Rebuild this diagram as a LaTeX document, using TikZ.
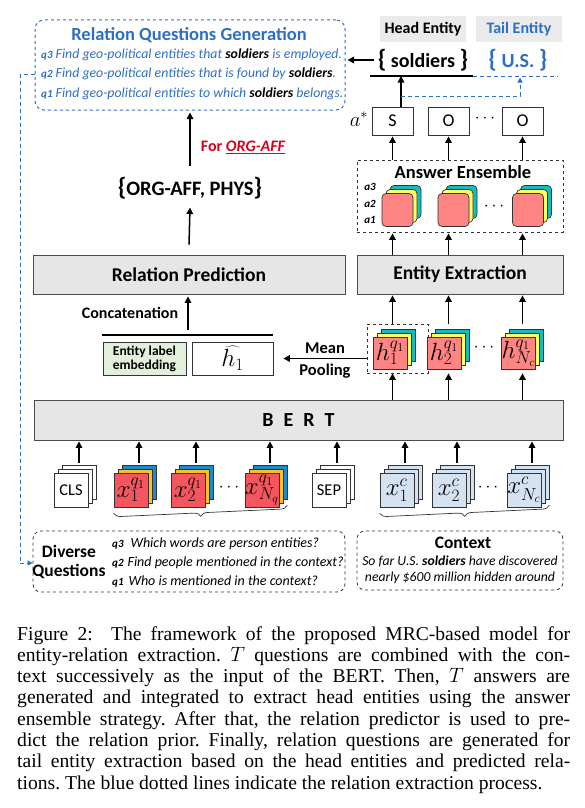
\documentclass[tikz,border=0pt]{standalone}
\usepackage{fontspec}
\setmainfont{Carlito}
\newfontfamily\capfont{Liberation Serif}
\usetikzlibrary{arrows.meta,decorations.pathreplacing}
\definecolor{qblue}{HTML}{2E6FC4}
\definecolor{boxgray}{HTML}{E6E6E6}
\definecolor{lblgray}{HTML}{EBEBEB}
\definecolor{forred}{HTML}{D8001C}
\definecolor{embgreen}{HTML}{E2EFDA}
\definecolor{ered}{HTML}{FF8585}
\definecolor{eyel}{HTML}{FFFF66}
\definecolor{ecyan}{HTML}{14BDBD}
\definecolor{qred}{HTML}{F4555F}
\definecolor{qyel}{HTML}{FFBE2D}
\definecolor{qblu}{HTML}{1A8CC9}
\definecolor{cblu}{HTML}{D5E2F1}
\newcommand\fsz[1]{\fontsize{#1}{#1}\selectfont}
\begin{document}
\begin{tikzpicture}[x=1pt,y=-1pt,
  arr/.style={-{Triangle[length=6.5pt,width=6.5pt]},line width=1.5pt},
  barr/.style={-{Triangle[length=5pt,width=5pt]}},
  bdash/.style={draw=qblue,line width=1pt,dash pattern=on 4pt off 3pt},
  gbox/.style={draw=black!70,fill=boxgray,line width=0.8pt,inner sep=0pt},
  dbox/.style={draw=black!80,dashed,line width=0.8pt,inner sep=0pt},
  outbox/.style={draw=black!80,line width=0.8pt,minimum width=41pt,minimum height=28pt,inner sep=0pt,font=\fsz{18}},
  ens/.style={draw=black!80,line width=0.7pt,rounded corners=4pt,minimum width=31pt,minimum height=33pt,inner sep=0pt},
  hst/.style={draw=black!80,line width=0.7pt,minimum width=34pt,minimum height=32pt,inner sep=0pt,font=\fsz{23}},
  tok/.style={draw=black!80,line width=0.6pt,minimum width=34pt,minimum height=34pt,inner sep=0pt,font=\fsz{24}},
  qline/.style={anchor=west,inner sep=0pt,font=\itshape\fsz{14}},
  brc/.style={decorate,decoration={brace,mirror,amplitude=7pt},line width=0.7pt,draw=black!80}]
\useasboundingbox (0,0) rectangle (585,808);

\node[draw=qblue,dashed,line width=1pt,rounded corners=9pt,minimum width=310pt,minimum height=90pt] (rqg) at (190,65){};
\node[text=qblue,font=\bfseries\fsz{18.5}] (rqgt) at (189,35){Relation Questions Generation};
\node[qline,text=qblue,font=\itshape\fsz{13.8}] (rq3) at (41,55){{\bfseries\fsz{11}q3} Find geo-political entities that \textcolor{black}{\bfseries soldiers} is employed.};
\node[qline,text=qblue,font=\itshape\fsz{13.8}] (rq2) at (41,74){{\bfseries\fsz{11}q2} Find geo-political entities that is found by \textcolor{black}{\bfseries soldiers}.};
\node[qline,text=qblue,font=\itshape\fsz{13.8}] (rq1) at (41,94){{\bfseries\fsz{11}q1} Find geo-political entities to which \textcolor{black}{\bfseries soldiers} belongs.};

\node[fill=lblgray,minimum width=86pt,minimum height=26pt,font=\bfseries\fsz{16}] (head) at (423,29){Head Entity};
\node[fill=lblgray,minimum width=86pt,minimum height=26pt,font=\bfseries\fsz{16},text=qblue] (tail) at (519,29){Tail Entity};
\node[font=\bfseries\fsz{20}] (sold) at (423,60){{\fsz{25}\{} soldiers {\fsz{25}\}}};
\node[font=\bfseries\fsz{20},text=qblue] (us) at (518,60){{\fsz{25}\{} U.S. {\fsz{25}\}}};
\coordinate (hl-w) at (370,76);
\coordinate (hl-e) at (473,76);
\coordinate (tl-m) at (520,76);
\coordinate (tl-e) at (558,76);
\coordinate (fork) at (401,96);
\draw[line width=1.5pt] (hl-w) -- (hl-e);
\draw[bdash] (hl-e) -- (tl-e);
\draw[arr,shorten >=2pt] (sold.west) -- (rqg.east|-sold.west);

\node[outbox] (sbox) at (392.5,121){S};
\node[outbox] (o1) at (448.5,121){O};
\node[outbox] (o2) at (522.5,121){O};
\node[font=\fsz{16}] (odots) at (485,119){$\cdots$};
\node[font=\fsz{22}] (astar) at (359,119){$a^*$};
\draw[arr] (fork|-sbox.north) -- (fork|-hl-w);
\draw[bdash,barr,shorten >=1.5pt] (fork) -| (tl-m);

\node[dbox,minimum width=206pt,minimum height=72pt] (ens) at (460,196){};
\node[font=\bfseries\fsz{18.5}] (enst) at (463,172){Answer Ensemble};
\node[font=\bfseries\itshape\fsz{11}] (a3) at (370,187){a3};
\node[font=\bfseries\itshape\fsz{11}] (a2) at (370,204){a2};
\node[font=\bfseries\itshape\fsz{11}] (a1) at (370,220){a1};
\node[ens,fill=ecyan] (e1-c) at (405.5,202){};
\node[ens,fill=eyel] (e1-b) at (401.5,206){};
\node[ens,fill=ered] (e1) at (397.5,210){};
\node[ens,fill=ecyan] (e2-c) at (461.5,202){};
\node[ens,fill=eyel] (e2-b) at (457.5,206){};
\node[ens,fill=ered] (e2) at (453.5,210){};
\node[ens,fill=ecyan] (e3-c) at (536,202){};
\node[ens,fill=eyel] (e3-b) at (532,206){};
\node[ens,fill=ered] (e3) at (528,210){};
\node[font=\fsz{16}] (edots) at (494,207){$\cdots$};
\draw[arr,shorten >=1pt] (sbox|-ens.north) -- (sbox.south);
\draw[arr,shorten >=1pt] (o1|-ens.north) -- (o1.south);
\draw[arr,shorten >=1pt] (o2|-ens.north) -- (o2.south);

\node[gbox,minimum width=312pt,minimum height=39pt,font=\bfseries\fsz{19.5}] (rp) at (189,274.5){Relation Prediction};
\node[gbox,minimum width=206pt,minimum height=39pt,font=\bfseries\fsz{19.5}] (ee) at (460,274.5){Entity Extraction};
\draw[arr,shorten >=1pt] (sbox|-ee.north) -- (sbox|-ens.south);
\draw[arr,shorten >=1pt] (o1|-ee.north) -- (o1|-ens.south);
\draw[arr,shorten >=1pt] (o2|-ee.north) -- (o2|-ens.south);

\node[font=\bfseries\fsz{20.5}] (orgs) at (190,188){{\fsz{25}\{}ORG-AFF, PHYS{\fsz{25}\}}};
\node[text=forred,font=\bfseries\fsz{16}] (forr) at (243,147){For \underline{\itshape ORG-AFF}};
\draw[arr] ([yshift=10pt]rp.north) -- ([yshift=-5pt]orgs.south);
\draw[arr,shorten >=2pt] ([yshift=8pt]orgs.north) -- (orgs.north|-rqg.south);

\node[font=\bfseries\fsz{16}] (concat) at (130,313){Concatenation};
\coordinate (cl-w) at (102,335);
\coordinate (cl-e) at (273,335);
\coordinate (cc) at (188,330);
\draw[line width=1.5pt] (cl-w) -- (cl-e);
\draw[arr,shorten >=2pt] (cc) -- (cc|-rp.south);
\node[draw=black!80,fill=embgreen,line width=0.8pt,minimum width=83pt,minimum height=33pt,inner sep=0pt,align=center,font=\bfseries\fontsize{13.5}{14}\selectfont] (emb) at (144.5,358.5){Entity label\\embedding};
\node[draw=black!80,line width=0.8pt,minimum width=81pt,minimum height=33pt,inner sep=0pt,font=\fsz{23}] (hhat) at (232.5,358.5){$\widehat{h_1}$};

\node[dbox,minimum width=61pt,minimum height=49pt] (hsel) at (397.5,348.5){};
\node[hst,fill=ecyan] (h1-c) at (398,345){};
\node[hst,fill=eyel] (h1-b) at (394,349){};
\node[hst,fill=ered] (h1) at (390,353){$h_1^{q_1}$};
\node[hst,fill=ecyan] (h2-c) at (452,345){};
\node[hst,fill=eyel] (h2-b) at (448,349){};
\node[hst,fill=ered] (h2) at (444,353){$h_2^{q_1}$};
\node[hst,fill=ecyan] (hn-c) at (526.5,345){};
\node[hst,fill=eyel] (hn-b) at (522.5,349){};
\node[hst,fill=ered] (hn) at (518.5,353){$h_{N_c}^{q_1}$};
\node[font=\fsz{16}] (hdots) at (484,348){$\cdots$};
\draw[arr,shorten >=1pt] (sbox|-hsel.north) -- (sbox|-ee.south);
\draw[arr,shorten >=1pt] (o1|-hsel.north) -- (o1|-ee.south);
\draw[arr,shorten >=1pt] (o2|-hsel.north) -- (o2|-ee.south);
\coordinate (mp) at ([xshift=10pt]hhat.east);
\draw[arr] (hsel.west|-hhat) -- (mp) node[midway,above=1pt,font=\bfseries\fsz{16.5}]{Mean} node[midway,below=1pt,font=\bfseries\fsz{16.5}]{Pooling};

\node[gbox,minimum width=529pt,minimum height=40pt,font=\bfseries\fsz{20}] (bert) at (298.5,420){B\hspace{10pt}E\hspace{10pt}R\hspace{10pt}T};
\draw[arr,shorten >=4pt] (sbox|-bert.north) -- (sbox|-h1.south);
\draw[arr,shorten >=4pt] (o1|-bert.north) -- (o1|-h1.south);
\draw[arr,shorten >=4pt] (o2|-bert.north) -- (o2|-h1.south);

\node[tok,fill=white] (cls-c) at (79,482){};
\node[tok,fill=white] (cls-b) at (75,486){};
\node[tok,fill=white,font=\fsz{16.5}] (cls) at (71,490){CLS};
\node[tok,fill=qblu] (x1-c) at (139,482){};
\node[tok,fill=qyel] (x1-b) at (135,486){};
\node[tok,fill=qred] (x1) at (131,490){$x_1^{q_1}$};
\node[tok,fill=qblu] (x2-c) at (196,482){};
\node[tok,fill=qyel] (x2-b) at (192,486){};
\node[tok,fill=qred] (x2) at (188,490){$x_2^{q_1}$};
\node[tok,fill=qblu] (xnq-c) at (270,482){};
\node[tok,fill=qyel] (xnq-b) at (266,486){};
\node[tok,fill=qred] (xnq) at (262,490){$x_{N_q}^{q_1}$};
\node[tok,fill=white] (sep-c) at (337,482){};
\node[tok,fill=white] (sep-b) at (333,486){};
\node[tok,fill=white,font=\fsz{16.5}] (sep) at (329,490){SEP};
\node[tok,fill=cblu] (c1-c) at (405,482){};
\node[tok,fill=cblu] (c1-b) at (401,486){};
\node[tok,fill=cblu] (c1) at (397,490){$x_1^{c}$};
\node[tok,fill=cblu] (c2-c) at (457,482){};
\node[tok,fill=cblu] (c2-b) at (453,486){};
\node[tok,fill=cblu] (c2) at (449,490){$x_2^{c}$};
\node[tok,fill=cblu] (cn-c) at (532,482){};
\node[tok,fill=cblu] (cn-b) at (528,486){};
\node[tok,fill=cblu] (cn) at (524,490){$x_{N_c}^{c}$};
\node[font=\fsz{16}] (qdots) at (229,488){$\cdots$};
\node[font=\fsz{16}] (cdots) at (488,488){$\cdots$};
\draw[arr,shorten >=1pt] ([yshift=2pt]cls-c.north) -- (cls-c|-bert.south);
\draw[arr,shorten >=1pt] ([yshift=2pt]x1-c.north) -- (x1-c|-bert.south);
\draw[arr,shorten >=1pt] ([yshift=2pt]x2-c.north) -- (x2-c|-bert.south);
\draw[arr,shorten >=1pt] ([yshift=2pt]xnq-c.north) -- (xnq-c|-bert.south);
\draw[arr,shorten >=1pt] ([yshift=2pt]sep-c.north) -- (sep-c|-bert.south);
\draw[arr,shorten >=1pt] ([yshift=2pt]c1-c.north) -- (c1-c|-bert.south);
\draw[arr,shorten >=1pt] ([yshift=2pt]c2-c.north) -- (c2-c|-bert.south);
\draw[arr,shorten >=1pt] ([yshift=2pt]cn-c.north) -- (cn-c|-bert.south);
\draw[brc] ([yshift=-6pt]x1.south west) -- ([yshift=-6pt]xnq-c.south east);
\draw[brc] ([yshift=-6pt]c1.south west) -- ([yshift=-6pt]cn-c.south east);

\node[dbox,rounded corners=8pt,minimum width=312pt,minimum height=61pt] (dq) at (189,561.5){};
\node[font=\bfseries\fontsize{17.5}{19}\selectfont,align=center] (dqt) at (69,561.5){Diverse\\Questions};
\node[qline] (dq3) at (112,544){{\bfseries\fsz{11}q3}\hspace{7pt}Which words are person entities?};
\node[qline] (dq2) at (112,563){{\bfseries\fsz{11}q2}\hspace{4pt}Find people mentioned in the context?};
\node[qline] (dq1) at (112,581){{\bfseries\fsz{11}q1}\hspace{5pt}Who is mentioned in the context?};
\node[dbox,rounded corners=8pt,minimum width=206pt,minimum height=59pt] (ctx) at (460,560.5){};
\node[font=\bfseries\fsz{17.5}] (ctxt) at (463,543){Context};
\node[font=\itshape\fsz{13.7}] (ctx1) at (460,561){So far U.S. \textbf{soldiers} have discovered};
\node[font=\itshape\fsz{13.7}] (ctx2) at (460,578){nearly \$600 million hidden around};
\coordinate (lb1) at (20,74);
\coordinate (lb2) at (20,563);
\draw[bdash,barr] (rqg.west|-lb1) -- (lb1) -- (lb2) -- (dq.west|-lb2);

\node[anchor=north west,inner sep=0pt,text width=553pt,align=justify,font=\capfont\frenchspacing\fontsize{19.6}{21.3}\selectfont] (cap) at (17,626){Figure 2:\ \ The framework of the proposed MRC-based model for\linebreak entity-relation extraction. $T$ questions are combined with the con-\linebreak text successively as the input of the BERT. Then, $T$ answers are\linebreak generated and integrated to extract head entities using the answer\linebreak ensemble strategy. After that, the relation predictor is used to pre-\linebreak dict the relation prior. Finally, relation questions are generated for\linebreak tail entity extraction based on the head entities and predicted rela-\linebreak tions. The blue dotted lines indicate the relation extraction process.};
\end{tikzpicture}
\end{document}
